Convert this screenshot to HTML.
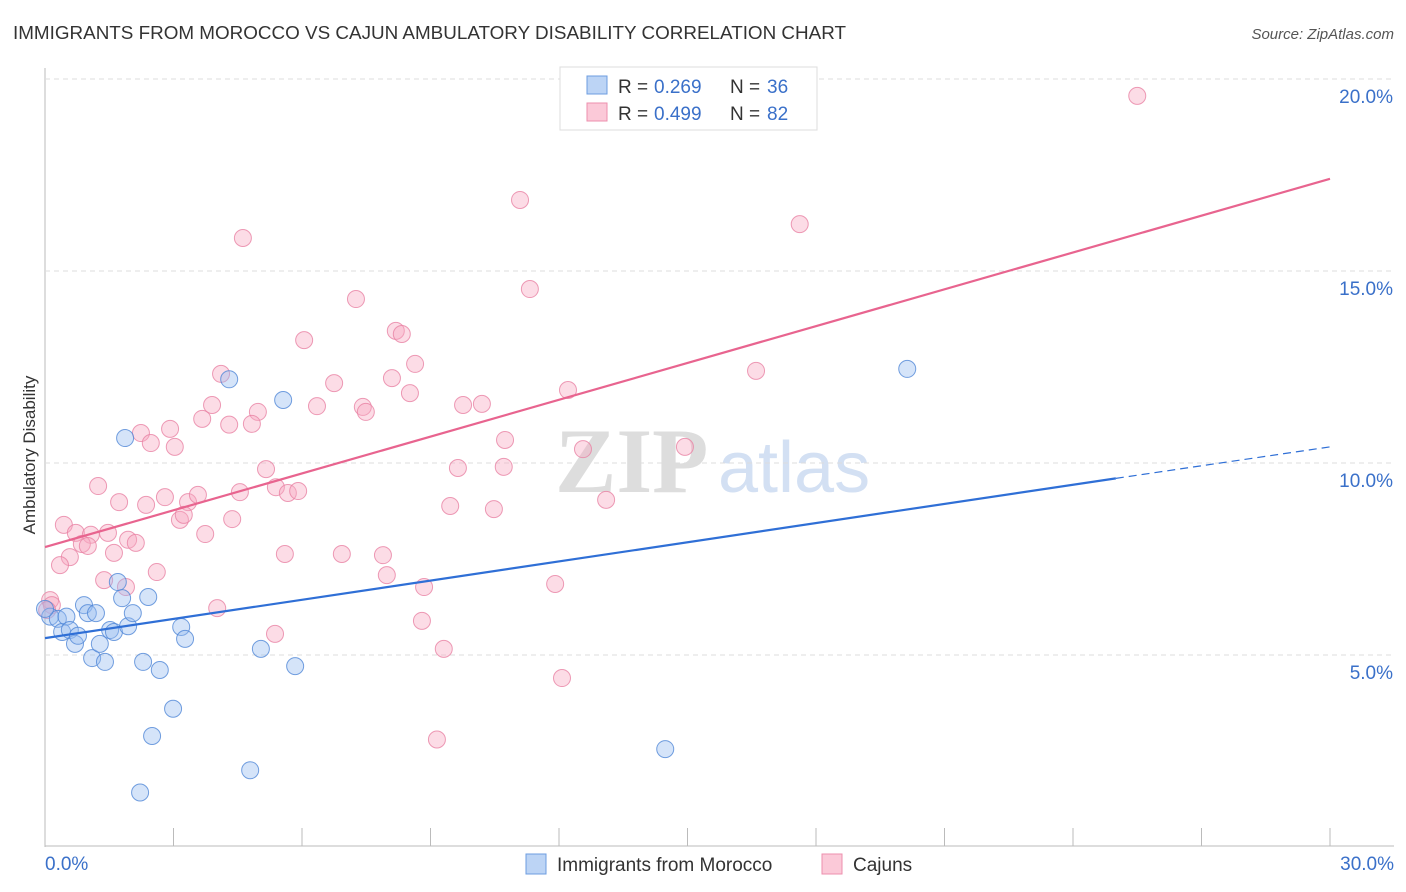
<!DOCTYPE html>
<html><head><meta charset="utf-8"><style>
body{margin:0;background:#fff;font-family:"Liberation Sans",sans-serif;}
svg{display:block}
</style></head><body>
<svg id="c" width="1406" height="892" xmlns="http://www.w3.org/2000/svg">
<text x="13" y="39" font-size="18.8" fill="#333" textLength="833" lengthAdjust="spacingAndGlyphs">IMMIGRANTS FROM MOROCCO VS CAJUN AMBULATORY DISABILITY CORRELATION CHART</text>
<text x="1394" y="39" font-size="15" fill="#555" font-style="italic" text-anchor="end">Source: ZipAtlas.com</text>
<text x="35" y="455" font-size="17" fill="#333" text-anchor="middle" transform="rotate(-90 35 455)">Ambulatory Disability</text>
<text x="555" y="492" font-size="92" fill="#ddd" font-family="Liberation Serif" font-weight="bold">ZIP</text>
<text x="718" y="492" font-size="72" fill="#d3e0f3">atlas</text>
<g id="grid"></g><g id="pts"></g><g id="lines"></g>
<g>
<rect x="560" y="67" width="257" height="63" fill="#fff" stroke="#ddd"/>
<rect x="587" y="76" width="20" height="18" fill="#bcd4f5" stroke="#6d9de0"/>
<rect x="587" y="103" width="20" height="18" fill="#fbc9d8" stroke="#ec8fae"/>
<text x="618" y="93" font-size="19" fill="#333">R =</text>
<text x="654" y="93" font-size="19" fill="#3a70c9">0.269</text>
<text x="730" y="93" font-size="19" fill="#333">N =</text>
<text x="767" y="93" font-size="19" fill="#3a70c9">36</text>
<text x="618" y="120" font-size="19" fill="#333">R =</text>
<text x="654" y="120" font-size="19" fill="#3a70c9">0.499</text>
<text x="730" y="120" font-size="19" fill="#333">N =</text>
<text x="767" y="120" font-size="19" fill="#3a70c9">82</text>
</g>
<g>
<rect x="526" y="854" width="20" height="20" fill="#bcd4f5" stroke="#6d9de0"/>
<text x="557" y="871" font-size="19" fill="#333">Immigrants from Morocco</text>
<rect x="822" y="854" width="20" height="20" fill="#fbc9d8" stroke="#ec8fae"/>
<text x="853" y="871" font-size="19" fill="#333">Cajuns</text>
</g>
</svg>
<script>
const xTicks=[0,3,6,9,12,15,18,21,24,27,30];
const yTicks=[5,10,15,20];
const blueX=[0.12,0.3,0.4,0.5,0.58,0.7,0.77,0.91,1.0,1.1,1.19,1.28,1.4,1.52,1.61,1.7,1.8,1.87,1.94,2.05,2.22,2.29,2.41,2.5,2.68,2.99,3.18,3.27,4.3,4.79,5.04,5.56,5.84,14.48,20.13,0.0];
const blueY=[6.0,5.94,5.6,6.0,5.65,5.29,5.5,6.3,6.09,4.92,6.09,5.29,4.82,5.65,5.6,6.9,6.48,10.65,5.75,6.09,1.42,4.82,6.51,2.89,4.61,3.6,5.73,5.42,12.18,2.0,5.16,11.64,4.71,2.55,12.45,6.2];
const pinkX=[25.5,11.09,17.62,4.62,11.32,7.26,6.05,8.19,8.33,8.64,4.11,6.75,8.1,8.52,12.21,16.6,3.9,4.97,6.35,7.42,7.49,9.76,10.2,3.67,4.3,4.83,2.24,2.92,2.47,3.03,10.74,12.56,14.94,5.16,9.64,10.71,1.24,2.8,3.34,3.57,4.55,5.39,5.67,5.91,1.73,2.36,9.46,10.48,13.1,3.15,3.24,4.37,0.44,0.72,1.07,1.47,3.74,1.94,0.86,1.0,2.12,1.61,0.58,5.6,6.93,7.89,0.35,2.61,1.38,1.89,7.98,8.85,11.91,4.02,5.37,8.8,9.31,12.07,9.15,0.12,0.16,0.05];
const pinkY=[19.56,16.85,16.22,15.86,14.53,14.27,13.2,13.44,13.36,12.58,12.32,12.08,12.21,11.82,11.9,12.4,11.51,11.33,11.48,11.46,11.33,11.51,11.54,11.15,11.0,11.02,10.78,10.89,10.52,10.42,10.6,10.36,10.42,9.84,9.87,9.9,9.4,9.11,8.98,9.17,9.24,9.37,9.22,9.27,8.98,8.91,8.88,8.8,9.04,8.52,8.65,8.54,8.39,8.18,8.13,8.18,8.15,8.0,7.89,7.84,7.92,7.66,7.55,7.63,7.63,7.6,7.34,7.16,6.95,6.77,7.08,6.77,6.85,6.22,5.55,5.89,5.16,4.4,2.8,6.43,6.3,6.17];
const blueLine=[5.44,9.6,10.42];
const pinkLine=[7.81,17.4];
const X=v=>45+v*1285/30, Y=v=>847-v*38.4;
const NS="http://www.w3.org/2000/svg";
function mk(tag,attrs,parent){const e=document.createElementNS(NS,tag);for(const k in attrs)e.setAttribute(k,attrs[k]);parent.appendChild(e);return e;}
const grid=document.getElementById('grid');
const ax=mk('line',{x1:45,y1:68,x2:45,y2:847,stroke:'#bbb'},grid);


const bx=mk('line',{x1:45,y1:846,x2:1394,y2:846,stroke:'#bbb'},grid);


yTicks.forEach(t=>{
 const g=mk('line',{x1:45,x2:1394,y1:Y(t),y2:Y(t),stroke:'#ddd','stroke-dasharray':'5,4'},grid);
 
 
 const l=mk('text',{x:1393,y:Y(t)+24,'font-size':19,fill:'#3a70c9','text-anchor':'end'},grid);
 l.textContent=t.toFixed(1)+'%';
 
 
});
xTicks.forEach((t,i)=>{
 if(i>0){const k=mk('line',{x1:X(t),x2:X(t),y1:828,y2:846,stroke:'#bbb'},grid);
 
 }
});
[[0,'start',45],[30,'end',1394]].forEach(([t,a,x])=>{
 const l=mk('text',{x:x,y:870,'font-size':19,fill:'#3a70c9','text-anchor':a},grid);
 l.textContent=t.toFixed(1)+'%';
 
 
});
const pts=document.getElementById('pts');
pinkX.forEach((x,i)=>{
 const c=mk('circle',{cx:X(x),cy:Y(pinkY[i]),r:8.5,fill:'rgba(247,167,192,0.4)',stroke:'rgba(232,130,164,0.8)','stroke-width':1},pts);
 
 
});
blueX.forEach((x,i)=>{
 const c=mk('circle',{cx:X(x),cy:Y(blueY[i]),r:8.5,fill:'rgba(150,188,240,0.4)',stroke:'rgba(80,135,215,0.8)','stroke-width':1},pts);
 
 
});
const lines=document.getElementById('lines');
const pl=mk('line',{x1:X(0),y1:Y(pinkLine[0]),x2:X(30),y2:Y(pinkLine[1]),stroke:'#e8648f','stroke-width':2.2},lines);


const bl=mk('line',{x1:X(0),y1:Y(blueLine[0]),x2:X(25),y2:Y(blueLine[1]),stroke:'#2f6fd6','stroke-width':2.2},lines);


const bd=mk('line',{x1:X(25),y1:Y(blueLine[1]),x2:X(30),y2:Y(blueLine[2]),stroke:'#2f6fd6','stroke-width':1.2,'stroke-dasharray':'8,5'},lines);


</script>
</body></html>
